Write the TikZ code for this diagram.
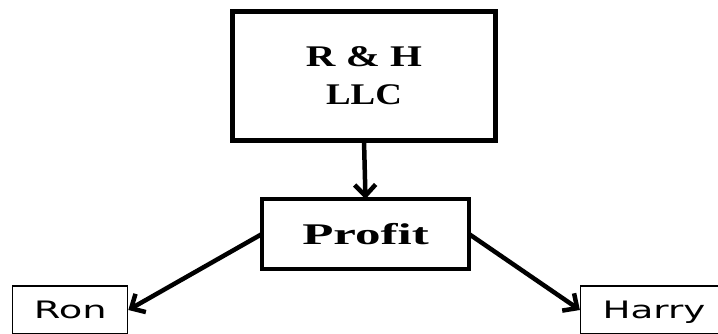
\documentclass[tikz,border=0pt]{standalone}
\usepackage{fontspec}
\setmainfont{Liberation Serif}
\newfontfamily\namefont{DejaVu Sans}
\usetikzlibrary{arrows.meta}

\tikzset{
  heavybox/.style={draw=black, fill=white, inner sep=0pt, outer sep=0pt,
    font=\fontsize{30}{38}\selectfont\bfseries, align=center},
  namebox/.style={draw=black, fill=white, line width=1.2pt, inner sep=0pt,
    minimum height=48pt, text height=17.5pt, text depth=0pt,
    font=\namefont\fontsize{24}{28}\selectfont},
  flow/.style={line width=4.5pt, -{Straight Barb[length=11pt,width=21pt]}}
}

\begin{document}
\begin{tikzpicture}[x=1pt, y=-1pt]
  \useasboundingbox (0,0) rectangle (718,333);

  % company box and its profit
  \node[heavybox, line width=5pt, minimum width=263pt, minimum height=129.5pt]
    (company) at (364,75.75)
    {\scalebox{1.365}[1]{R \& H}\\\scalebox{1.23}[1]{LLC}};
  \node[heavybox, line width=4.5pt, minimum width=207pt, minimum height=70pt]
    (profit) at (365.5,234) {\scalebox{1.7}[1]{Profit}};

  % the two partners
  \node[namebox, minimum width=115pt] (ron) at (70.2,310)
    {\scalebox{1.6}[1]{Ron}};
  \node[namebox, minimum width=147pt] (harry) at (654,310)
    {\scalebox{1.55}[1]{Harry}};

  % profit flow
  \draw[flow] (company.south) -- (profit.north);
  \draw[flow] (profit.west) -- (ron.east);
  \draw[flow] (profit.east) -- (harry.west);
\end{tikzpicture}
\end{document}
